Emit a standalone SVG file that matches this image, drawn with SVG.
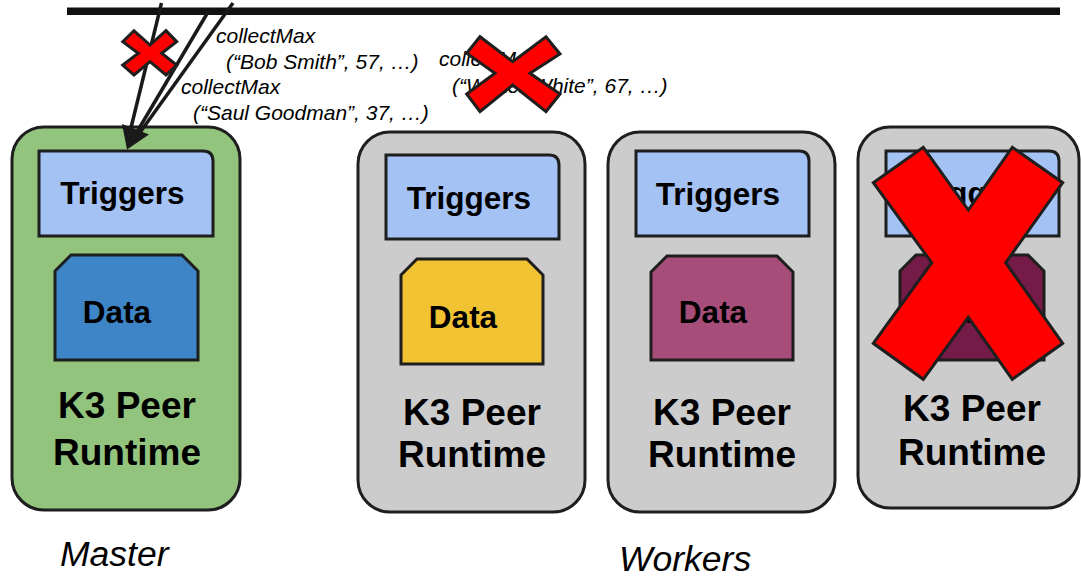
<svg xmlns="http://www.w3.org/2000/svg" width="1081" height="579" viewBox="0 0 1081 579">
  <style>
    .peer { stroke: #1e1e1e; stroke-width: 3; }
    .master { fill: #93c47d; }
    .worker { fill: #cccccc; }
    .trig { fill: #a4c2f4; stroke: #1e1e1e; stroke-width: 3; }
    .data { stroke: #1e1e1e; stroke-width: 3; }
    .lbl { font-family: "Liberation Sans", Arial, sans-serif; font-weight: bold; fill: #000; text-anchor: middle; }
    .t-trig { font-size: 31.5px; }
    .t-data { font-size: 31.5px; }
    .t-rt { font-size: 37px; }
    .msg { font-family: "Liberation Sans", Arial, sans-serif; font-style: italic; font-size: 21px; fill: #000; }
    .role { font-family: "Liberation Sans", Arial, sans-serif; font-style: italic; font-size: 35.5px; fill: #000; }
    .cross { fill: #ff0000; stroke: #1e1e1e; stroke-width: 3; stroke-linejoin: miter; }
    .wire { stroke: #1a1a1a; stroke-width: 3.5; fill: none; }
  </style>

  <!-- shared network bus -->
  <rect x="67" y="7.5" width="993" height="7.5" fill="#111"/>

  <!-- master peer -->
  <g id="master">
    <rect class="peer master" x="12" y="127" width="228" height="383" rx="32"/>
    <path class="trig" d="M39 151 H203 Q213 151 213 161 V236 H39 Z"/>
    <text class="lbl t-trig" x="122.5" y="204">Triggers</text>
    <path class="data" fill="#3d85c6" d="M55 360 V271 L71 255 H182 L198 271 V360 Z"/>
    <text class="lbl t-data" x="117" y="323">Data</text>
    <text class="lbl t-rt" x="127" y="418">K3 Peer</text>
    <text class="lbl t-rt" x="127" y="465">Runtime</text>
  </g>

  <!-- worker 1 -->
  <g id="worker1">
    <rect class="peer worker" x="358" y="132" width="227" height="380" rx="32"/>
    <path class="trig" d="M386 155 H549 Q559 155 559 165 V239 H386 Z"/>
    <text class="lbl t-trig" x="469" y="209">Triggers</text>
    <path class="data" fill="#f1c232" d="M401 364 V275 L417 259 H527 L543 275 V364 Z"/>
    <text class="lbl t-data" x="463" y="328">Data</text>
    <text class="lbl t-rt" x="472" y="425">K3 Peer</text>
    <text class="lbl t-rt" x="472" y="467">Runtime</text>
  </g>

  <!-- worker 2 -->
  <g id="worker2">
    <rect class="peer worker" x="608" y="132" width="227" height="380" rx="32"/>
    <path class="trig" d="M636 151 H799 Q809 151 809 161 V236 H636 Z"/>
    <text class="lbl t-trig" x="718" y="205">Triggers</text>
    <path class="data" fill="#a64d79" d="M651 360 V272 L667 256 H777 L793 272 V360 Z"/>
    <text class="lbl t-data" x="713" y="323">Data</text>
    <text class="lbl t-rt" x="722" y="425">K3 Peer</text>
    <text class="lbl t-rt" x="722" y="467">Runtime</text>
  </g>

  <!-- worker 3 (failed) -->
  <g id="worker3">
    <rect class="peer worker" x="858" y="127" width="221" height="381" rx="32"/>
    <path class="trig" d="M886 151 H1049 Q1059 151 1059 161 V236 H886 Z"/>
    <text class="lbl t-trig" x="972" y="204">Triggers</text>
    <path class="data" fill="#741b47" d="M900 360 V271 L916 255 H1028 L1044 271 V360 Z"/>
    <text class="lbl t-data" x="966" y="323">Data</text>
    <text class="lbl t-rt" x="972" y="421">K3 Peer</text>
    <text class="lbl t-rt" x="972" y="465">Runtime</text>
    <polygon class="cross" points="873.3,182.7 923.3,147.3 968.3,210 1012.3,147.3 1062.7,182.7 1005.7,262.7 1062.7,343.3 1012.3,379.3 968.3,317.3 923.3,379.3 873.3,343.3 931.7,262.7"/>
  </g>

  <!-- messages from workers to the master -->
  <g id="connectors">
    <line class="wire" x1="161.5" y1="3" x2="128" y2="140"/>
    <line class="wire" x1="208" y1="12" x2="134" y2="137"/>
    <line class="wire" x1="233" y1="3" x2="136" y2="138"/>
    <polygon points="127,149.5 122,124 149,134.5" fill="#1a1a1a"/>
  </g>

  <!-- message labels -->
  <g id="labels">
    <text class="msg" x="216" y="43">collectMax</text>
    <text class="msg" x="226" y="69">(“Bob Smith”, 57, …)</text>
    <text class="msg" x="181" y="94">collectMax</text>
    <text class="msg" x="193" y="120">(“Saul Goodman”, 37, …)</text>
    <text class="msg" x="439" y="66">collectMax</text>
    <text class="msg" x="452" y="93">(“Walter White”, 67, …)</text>
  </g>

  <!-- dropped messages -->
  <g id="drops">
    <polygon class="cross" points="122.7,41.7 134,30.7 150,45 166,30.7 176.7,41.7 161.7,53.3 176.7,65 166,75 150,61.7 134,75 122.7,65 138.3,53.3"/>
    <polygon class="cross" points="466.7,53.3 480,36.7 512.7,61.7 546,36.7 560,54 530,73.3 560,94 546,111.7 512.7,85 480,111.7 466.7,94 495,73.3"/>
  </g>

  <!-- roles -->
  <text class="role" x="60" y="566">Master</text>
  <text class="role" x="619" y="571">Workers</text>
</svg>
